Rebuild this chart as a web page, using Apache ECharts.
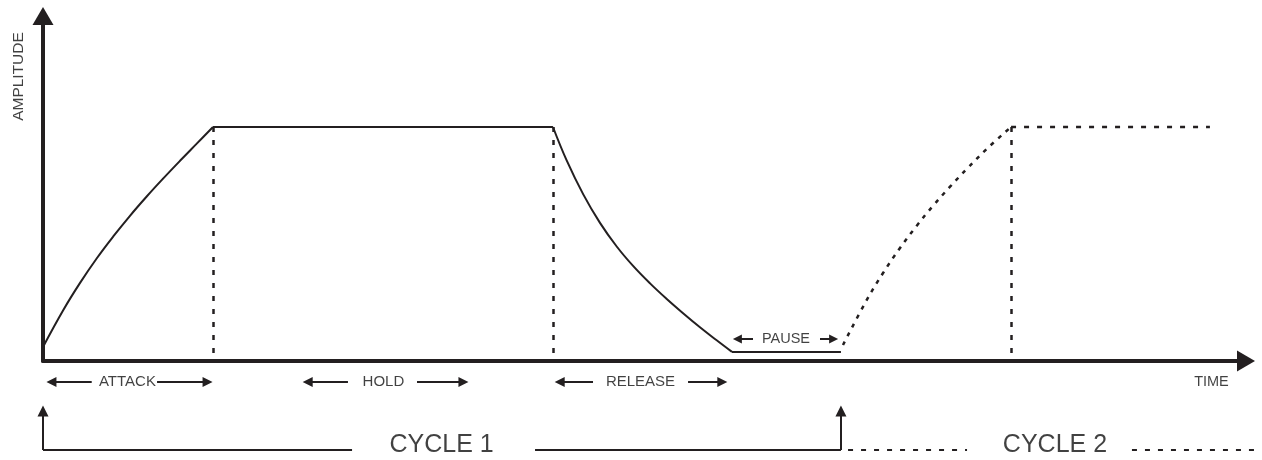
<!DOCTYPE html>
<html>
<head>
<meta charset="utf-8">
<script src="https://cdn.jsdelivr.net/npm/echarts@6/dist/echarts.min.js"></script>
<style>
html,body{margin:0;padding:0;background:#ffffff;}
#chart{width:1262px;height:460px;}
</style>
</head>
<body>
<div id="chart"></div>
<script>
// ---- data (time in arbitrary units 0-100, amplitude in % of axis height) ----
const attack1 = [[0,4.06],[1.69,14.78],[3.08,22.64],[4.46,29.71],[5.84,36.09],[7.23,42.09],[8.62,47.68],[10.0,52.93],[11.39,58.03],[12.78,63.01],[14.13,67.83]];
const hold1 = [[14.13,67.83],[42.39,67.83]];
const release1 = [[42.39,67.83],[43.53,58.14],[44.91,48.29],[46.30,40.03],[47.69,33.19],[49.07,27.48],[50.46,22.49],[51.85,17.97],[53.23,13.77],[54.61,9.77],[56.0,6.00],[57.27,2.64]];
const pause1 = [[57.27,2.64],[66.33,2.64]];
const attack2 = [[66.50,4.64],[68.50,17.86],[69.83,25.51],[71.24,32.75],[72.65,39.30],[73.98,44.96],[75.40,50.52],[76.81,55.74],[78.47,61.54],[80.47,67.83]];
const hold2 = [[80.47,67.83],[97.0,67.83]];
const phaseBounds = [14.13, 42.39, 80.47];
const peakLevel = 67.83;

// annotation row below the time axis
const phaseNames = ['ATTACK', 'HOLD', 'RELEASE'];
const phaseNameT = [7.02, 28.30, 49.67];
const phaseArrowsLeft = [[4.05, 0.70], [25.35, 22.0], [45.72, 42.95]];   // [from, to]
const phaseArrowsRight = [[9.48, 13.68], [31.09, 34.95], [53.62, 56.47]];
const phaseRowLevel = -6.09;

const pauseName = 'PAUSE';
const pauseNameT = 61.76;
const pauseArrows = [[59.02, 57.72], [64.59, 65.72]];
const pauseRowLevel = 6.38;

// cycle brackets
const cycleNames = ['CYCLE 1', 'CYCLE 2'];
const cycleNameT = [33.13, 84.12];
const cycleLevel = -25.8;
const cycleNameLevel = -24.35;
const cycleArrowTop = -14.49;
const cycleStarts = [0, 66.33];
const cycle1Segments = [[0, 25.69], [40.90, 66.33]];
const cycle2Segments = [[66.92, 76.81], [90.52, 100.75]];

const axisNames = { x: 'TIME', y: 'AMPLITUDE' };
const timeNamePos = [97.13, -6.09];
const ampNamePos = [-2.04, 82.46];

// ---- styles ----
const ink = '#231f20';
const textInk = '#111111';
const font = "'Liberation Sans', Arial, sans-serif";

function seg(a, b) { return { coords: [a, b] }; }

const labelItems = [];
phaseNames.forEach((n, i) => labelItems.push({ value: [phaseNameT[i], phaseRowLevel], name: n, fs: 15 }));
labelItems.push({ value: [pauseNameT, pauseRowLevel], name: pauseName, fs: 14.5 });
cycleNames.forEach((n, i) => labelItems.push({ value: [cycleNameT[i], cycleNameLevel], name: n, fs: 25 }));
labelItems.push({ value: timeNamePos, name: axisNames.x, fs: 14.5 });
labelItems.push({ value: ampNamePos, name: axisNames.y, fs: 15.5, rot: 90 });

const curveStyle = { color: ink, width: 2 };

const option = {
  animation: false,
  backgroundColor: '#ffffff',
  grid: { left: 43, right: 16, top: 16, bottom: 99, containLabel: false },
  xAxis: {
    type: 'value', min: 0, max: 100,
    axisLine: { show: true, onZero: false, lineStyle: { color: ink, width: 4 }, symbol: ['none', 'triangle'], symbolSize: [21, 18] },
    axisTick: { show: false }, axisLabel: { show: false }, splitLine: { show: false }
  },
  yAxis: {
    type: 'value', min: 0, max: 100,
    axisLine: { show: true, onZero: false, lineStyle: { color: ink, width: 4 }, symbol: ['none', 'triangle'], symbolSize: [21, 18] },
    axisTick: { show: false }, axisLabel: { show: false }, splitLine: { show: false }
  },
  series: [
    { type: 'line', data: attack1, smooth: 0.4, symbol: 'none', clip: false, lineStyle: curveStyle },
    { type: 'line', data: hold1, symbol: 'none', clip: false, lineStyle: curveStyle },
    { type: 'line', data: release1, smooth: 0.4, symbol: 'none', clip: false, lineStyle: curveStyle },
    { type: 'line', data: pause1, symbol: 'none', clip: false, lineStyle: curveStyle },
    { type: 'line', data: attack2, smooth: 0.4, symbol: 'none', clip: false, lineStyle: { color: ink, width: 2.5, type: [4, 6] } },
    { type: 'line', data: hold2, symbol: 'none', clip: false, lineStyle: { color: ink, width: 2.5, type: [5, 8] } },
    { type: 'lines', coordinateSystem: 'cartesian2d', clip: false, silent: true,
      data: phaseBounds.map(t => seg([t, peakLevel], [t, 0])),
      lineStyle: { color: ink, width: 2.5, type: [5, 8], opacity: 1 } },
    { type: 'lines', coordinateSystem: 'cartesian2d', clip: false, silent: true,
      symbol: ['none', 'triangle'], symbolSize: [9, 10],
      data: phaseArrowsLeft.concat(phaseArrowsRight).map(a => seg([a[0], phaseRowLevel], [a[1], phaseRowLevel])),
      lineStyle: { color: ink, width: 2, opacity: 1 } },
    { type: 'lines', coordinateSystem: 'cartesian2d', clip: false, silent: true,
      symbol: ['none', 'triangle'], symbolSize: [8, 9],
      data: pauseArrows.map(a => seg([a[0], pauseRowLevel], [a[1], pauseRowLevel])),
      lineStyle: { color: ink, width: 2, opacity: 1 } },
    { type: 'lines', coordinateSystem: 'cartesian2d', clip: false, silent: true,
      data: cycle1Segments.map(s => seg([s[0], cycleLevel], [s[1], cycleLevel])),
      lineStyle: { color: ink, width: 2, opacity: 1 } },
    { type: 'lines', coordinateSystem: 'cartesian2d', clip: false, silent: true,
      symbol: ['none', 'triangle'], symbolSize: [10, 11],
      data: cycleStarts.map(t => seg([t, cycleLevel], [t, cycleArrowTop])),
      lineStyle: { color: ink, width: 2, opacity: 1 } },
    { type: 'lines', coordinateSystem: 'cartesian2d', clip: false, silent: true,
      data: cycle2Segments.map(s => seg([s[0], cycleLevel], [s[1], cycleLevel])),
      lineStyle: { color: ink, width: 2, type: [5, 8], opacity: 1 } },
    { type: 'scatter', clip: false, silent: true, symbolSize: 0,
      data: labelItems.map(d => ({
        value: d.value, name: d.name,
        label: { show: true, position: 'inside', formatter: d.name, fontSize: d.fs, rotate: d.rot || 0,
                 color: textInk, fontFamily: font, align: 'center', verticalAlign: 'middle' }
      })) }
  ]
};

const chart = echarts.init(document.getElementById('chart'), null, { renderer: 'canvas' });
chart.setOption(option);
</script>
</body>
</html>
